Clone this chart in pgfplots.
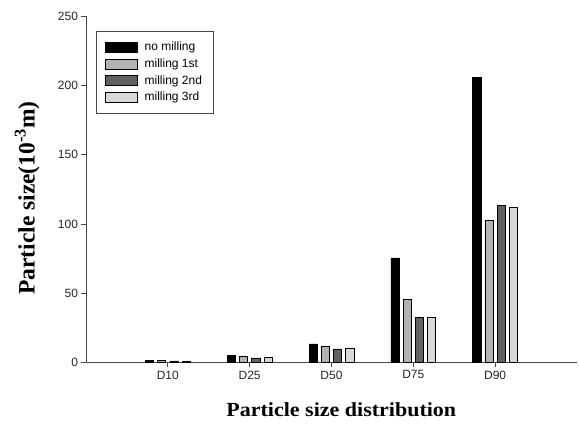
\documentclass[border=0pt]{standalone}
\usepackage{pgfplots}
\pgfplotsset{compat=1.18}
\usepackage{fontspec}
\setmainfont{Liberation Sans}
\newfontfamily\serif{Liberation Serif}
\definecolor{cA}{RGB}{0,0,0}
\definecolor{cB}{RGB}{178,178,178}
\definecolor{cC}{RGB}{98,98,98}
\definecolor{cD}{RGB}{216,216,216}
\definecolor{axc}{RGB}{70,70,70}
\begin{document}
\begin{tikzpicture}
\path[use as bounding box] (0pt,0pt) rectangle (579pt,426pt);
\begin{axis}[
  at={(86pt,63.3pt)}, anchor=south west,
  scale only axis, width=491pt, height=346.7pt,
  xmin=0, xmax=6, ymin=0, ymax=250,
  axis lines*=left,
  axis line style={axc, line width=0.8pt},
  tick style={axc, line width=0.8pt},
  tick align=outside,
  major tick length=4.5pt,
  xtick={1,2,3,4,5},
  xticklabels={D10,D25,D50,D75,D90},
  ytick={0,50,100,150,200,250},
  /pgf/number format/assume math mode=true,
  ticklabel style={font=\fontsize{12}{12}\selectfont, text=black!85},
  every axis y label/.style={at={(axis description cs:-0.120,0.475)}, rotate=90, anchor=center},
  every axis x label/.style={at={(axis description cs:0.52,-0.136)}, anchor=center},
  ylabel={\serif\bfseries\fontsize{23.5}{24}\selectfont Particle size(10\textsuperscript{-3}m)},
  xlabel={\serif\bfseries\scalebox{1.1}[1]{\fontsize{20}{20}\selectfont Particle size distribution}},
  ybar, bar width=0.1,
  legend style={at={(axis description cs:0.0204,0.957)}, anchor=north west,
    draw=axc, line width=0.6pt, font=\fontsize{12}{12}\selectfont,
    inner xsep=9pt, inner ysep=9pt, row sep=2.5pt,
    /tikz/every even column/.append style={column sep=0pt}},
  legend cell align=left,
  legend image code/.code={\draw[#1] (0pt,-5pt) rectangle (32pt,5pt); \path[draw=none,fill=none] (0pt,0pt) -- (37pt,0pt);},
  every axis plot/.append style={draw=black, line width=0.6pt},
]
\addplot[fill=cA, bar shift=-0.224] coordinates {(1,1.5) (2,5) (3,13.5) (4,75.5) (5,205.7)};
\addplot[fill=cB, bar shift=-0.075] coordinates {(1,1.5) (2,4.6) (3,12) (4,46) (5,102.4)};
\addplot[fill=cC, bar shift=0.075] coordinates {(1,1.3) (2,3.5) (3,10) (4,32.5) (5,113.7)};
\addplot[fill=cD, bar shift=0.224] coordinates {(1,1.2) (2,3.8) (3,10.5) (4,32.5) (5,112)};
\legend{no milling, milling 1st, milling 2nd, milling 3rd}
\end{axis}
\end{tikzpicture}
\end{document}
